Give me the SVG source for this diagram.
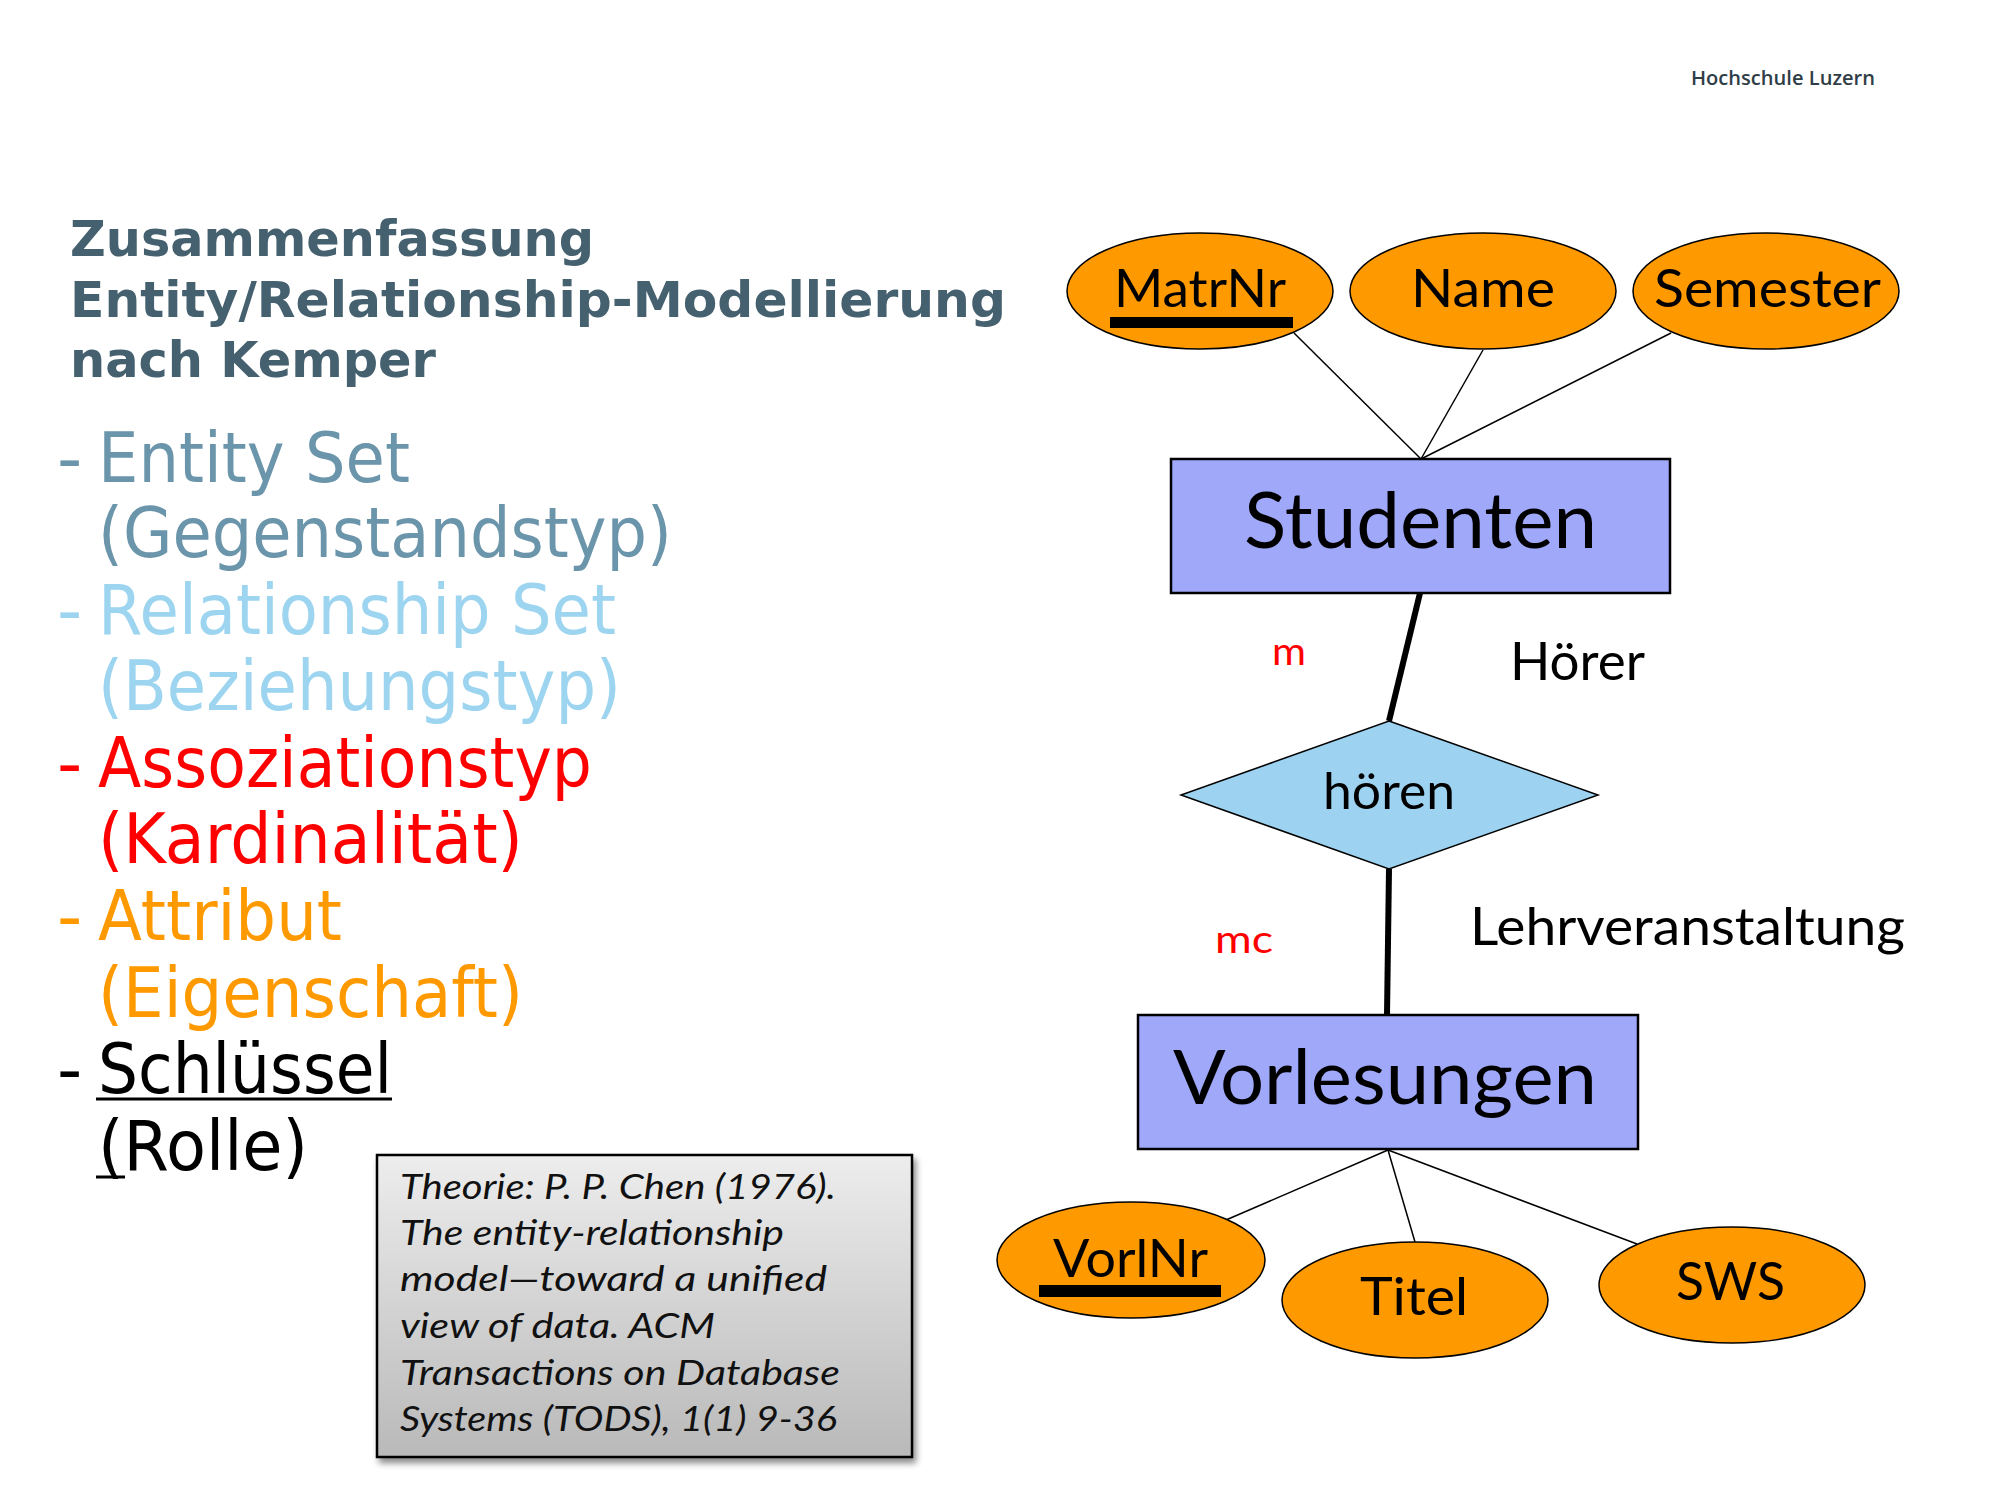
<svg xmlns="http://www.w3.org/2000/svg" width="2000" height="1500" viewBox="0 0 2000 1500">
  <style>
    .title { font-family: "DejaVu Sans", Verdana, sans-serif; font-weight: bold; font-size: 49px; fill: #45606e; }
    .item { font-family: "DejaVu Sans", Verdana, sans-serif; font-size: 70px; }
    .c-entity { fill: #6b95ab; }
    .c-rel { fill: #9dd5f0; }
    .c-card { fill: #ff0000; }
    .c-attr { fill: #ff9900; }
    .c-key { fill: #000000; }
    .brand { font-family: "Open Sans", "DejaVu Sans", sans-serif; font-weight: 600; font-size: 19px; fill: #2f3d47; }
    .cite { font-family: Lato, "Noto Sans", sans-serif; font-style: italic; font-size: 34px; fill: #111111; }
    .lbl { font-family: Lato, "Noto Sans", sans-serif; fill: #000000; }
    .attr { fill: #ff9900; stroke: #000000; stroke-width: 1.5; }
    .entity { fill: #a0a8fa; stroke: #000000; stroke-width: 2.5; }
    .relship { fill: #9dd3f0; stroke: #000000; stroke-width: 1.5; }
    .thin { stroke: #000000; stroke-width: 1.5; fill: none; }
    .thick { stroke: #000000; stroke-width: 6; fill: none; }
    .card { font-family: Lato, "Noto Sans", sans-serif; font-size: 38px; fill: #ff0000; }
  </style>
  <defs>
    <linearGradient id="citeFill" x1="0" y1="0" x2="0" y2="1">
      <stop offset="0" stop-color="#ededed"/>
      <stop offset="1" stop-color="#b9b9b9"/>
    </linearGradient>
    <filter id="shadow" x="-5%" y="-5%" width="115%" height="115%">
      <feDropShadow dx="3" dy="5" stdDeviation="3" flood-color="#000000" flood-opacity="0.45"/>
    </filter>
  </defs>

  <rect x="0" y="0" width="2000" height="1500" fill="#ffffff"/>

  <!-- header -->
  <text class="brand" x="1691" y="85" textLength="184" lengthAdjust="spacingAndGlyphs">Hochschule Luzern</text>

  <!-- heading -->
  <g id="heading">
    <text class="title" x="70" y="256" textLength="524" lengthAdjust="spacingAndGlyphs">Zusammenfassung</text>
    <text class="title" x="70" y="317" textLength="936" lengthAdjust="spacingAndGlyphs">Entity/Relationship-Modellierung</text>
    <text class="title" x="70" y="377" textLength="366" lengthAdjust="spacingAndGlyphs">nach Kemper</text>
  </g>

  <!-- legend list -->
  <g id="legend">
    <text class="item c-entity" x="57" y="482">-</text>
    <text class="item c-entity" x="98" y="482" textLength="312" lengthAdjust="spacingAndGlyphs">Entity Set</text>
    <text class="item c-entity" x="98" y="557" textLength="574" lengthAdjust="spacingAndGlyphs">(Gegenstandstyp)</text>

    <text class="item c-rel" x="57" y="634">-</text>
    <text class="item c-rel" x="98" y="634" textLength="518" lengthAdjust="spacingAndGlyphs">Relationship Set</text>
    <text class="item c-rel" x="98" y="710" textLength="523" lengthAdjust="spacingAndGlyphs">(Beziehungstyp)</text>

    <text class="item c-card" x="57" y="787">-</text>
    <text class="item c-card" x="98" y="787" textLength="494" lengthAdjust="spacingAndGlyphs">Assoziationstyp</text>
    <text class="item c-card" x="98" y="863" textLength="425" lengthAdjust="spacingAndGlyphs">(Kardinalität)</text>

    <text class="item c-attr" x="57" y="940">-</text>
    <text class="item c-attr" x="98" y="940" textLength="244" lengthAdjust="spacingAndGlyphs">Attribut</text>
    <text class="item c-attr" x="98" y="1017" textLength="425" lengthAdjust="spacingAndGlyphs">(Eigenschaft)</text>

    <text class="item c-key" x="57" y="1093">-</text>
    <text class="item c-key" x="98" y="1093" textLength="294" lengthAdjust="spacingAndGlyphs">Schlüssel</text>
    <line x1="96" y1="1099" x2="392" y2="1099" stroke="#000000" stroke-width="3"/>
    <text class="item c-key" x="98" y="1170" textLength="210" lengthAdjust="spacingAndGlyphs">(Rolle)</text>
    <line x1="96" y1="1177" x2="125" y2="1177" stroke="#000000" stroke-width="3"/>
  </g>

  <!-- reference box -->
  <g id="citation">
    <rect x="377" y="1155" width="535" height="302" fill="url(#citeFill)" stroke="#000000" stroke-width="2.5" filter="url(#shadow)"/>
    <text class="cite" x="400" y="1199" textLength="436" lengthAdjust="spacingAndGlyphs">Theorie: P. P. Chen (1976).</text>
    <text class="cite" x="400" y="1245" textLength="384" lengthAdjust="spacingAndGlyphs">The entity-relationship</text>
    <text class="cite" x="400" y="1291" textLength="427" lengthAdjust="spacingAndGlyphs">model—toward a unified</text>
    <text class="cite" x="400" y="1338" textLength="315" lengthAdjust="spacingAndGlyphs">view of data. ACM</text>
    <text class="cite" x="400" y="1385" textLength="440" lengthAdjust="spacingAndGlyphs">Transactions on Database</text>
    <text class="cite" x="400" y="1431" textLength="437" lengthAdjust="spacingAndGlyphs">Systems (TODS), 1(1) 9-36</text>
  </g>

  <!-- connectors -->
  <g id="connectors">
    <line class="thin" x1="1294" y1="333" x2="1421" y2="459"/>
    <line class="thin" x1="1483" y1="350" x2="1421" y2="459"/>
    <line class="thin" x1="1671" y1="333" x2="1421" y2="459"/>
    <line class="thick" x1="1420" y1="593" x2="1389" y2="721"/>
    <line class="thick" x1="1389" y1="869" x2="1387" y2="1015"/>
    <line class="thin" x1="1388" y1="1150" x2="1226" y2="1220"/>
    <line class="thin" x1="1388" y1="1150" x2="1415" y2="1242"/>
    <line class="thin" x1="1388" y1="1150" x2="1637" y2="1244"/>
  </g>

  <!-- attributes of Studenten -->
  <g id="attr-matrnr">
    <ellipse class="attr" cx="1200" cy="291" rx="133" ry="58"/>
    <text class="lbl" x="1114" y="307" font-size="52" textLength="172" lengthAdjust="spacingAndGlyphs">MatrNr</text>
    <rect x="1110" y="317" width="183" height="11" fill="#000000"/>
  </g>
  <g id="attr-name">
    <ellipse class="attr" cx="1483" cy="291" rx="133" ry="58"/>
    <text class="lbl" x="1411" y="307" font-size="52" textLength="144" lengthAdjust="spacingAndGlyphs">Name</text>
  </g>
  <g id="attr-semester">
    <ellipse class="attr" cx="1766" cy="291" rx="133" ry="58"/>
    <text class="lbl" x="1654" y="307" font-size="52" textLength="227" lengthAdjust="spacingAndGlyphs">Semester</text>
  </g>

  <!-- entity Studenten -->
  <g id="entity-studenten">
    <rect class="entity" x="1171" y="459" width="499" height="134"/>
    <text class="lbl" x="1244" y="548" font-size="77" textLength="353" lengthAdjust="spacingAndGlyphs">Studenten</text>
  </g>

  <!-- relationship hören -->
  <g id="rel-hoeren">
    <polygon class="relship" points="1389,721 1598,795 1389,869 1181,795"/>
    <text class="lbl" x="1323" y="809" font-size="50" textLength="132" lengthAdjust="spacingAndGlyphs">hören</text>
  </g>

  <!-- roles and cardinalities -->
  <g id="role-labels">
    <text class="card" x="1272" y="665" textLength="34" lengthAdjust="spacingAndGlyphs">m</text>
    <text class="lbl" x="1510" y="680" font-size="52" textLength="135" lengthAdjust="spacingAndGlyphs">Hörer</text>
    <text class="card" x="1215" y="953" textLength="58" lengthAdjust="spacingAndGlyphs">mc</text>
    <text class="lbl" x="1470" y="945" font-size="53" textLength="435" lengthAdjust="spacingAndGlyphs">Lehrveranstaltung</text>
  </g>

  <!-- entity Vorlesungen -->
  <g id="entity-vorlesungen">
    <rect class="entity" x="1138" y="1015" width="500" height="134"/>
    <text class="lbl" x="1173" y="1104" font-size="76" textLength="424" lengthAdjust="spacingAndGlyphs">Vorlesungen</text>
  </g>

  <!-- attributes of Vorlesungen -->
  <g id="attr-vorlnr">
    <ellipse class="attr" cx="1131" cy="1260" rx="134" ry="58"/>
    <text class="lbl" x="1053" y="1277" font-size="52" textLength="155" lengthAdjust="spacingAndGlyphs">VorlNr</text>
    <rect x="1039" y="1285" width="182" height="12" fill="#000000"/>
  </g>
  <g id="attr-titel">
    <ellipse class="attr" cx="1415" cy="1300" rx="133" ry="58"/>
    <text class="lbl" x="1360" y="1315" font-size="53" textLength="108" lengthAdjust="spacingAndGlyphs">Titel</text>
  </g>
  <g id="attr-sws">
    <ellipse class="attr" cx="1732" cy="1285" rx="133" ry="58"/>
    <text class="lbl" x="1676" y="1300" font-size="53" textLength="109" lengthAdjust="spacingAndGlyphs">SWS</text>
  </g>
</svg>
